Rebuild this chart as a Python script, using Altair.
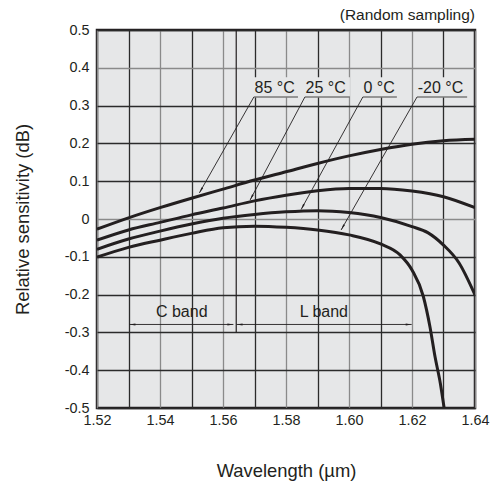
import math
import altair as alt
import pandas as pd

# ---- curve data (wavelength um, relative sensitivity dB) ----
wl_85 = [1.52, 1.53, 1.54, 1.55, 1.56, 1.57, 1.58, 1.59, 1.60, 1.61, 1.62, 1.63, 1.64]
rs_85 = [-0.027, 0.003, 0.030, 0.055, 0.079, 0.103, 0.125, 0.147, 0.167, 0.184, 0.198, 0.207, 0.211]

wl_25 = [1.52, 1.53, 1.54, 1.55, 1.56, 1.57, 1.58, 1.59, 1.60, 1.61, 1.62, 1.63, 1.64]
rs_25 = [-0.056, -0.029, -0.009, 0.011, 0.029, 0.048, 0.063, 0.075, 0.081, 0.081, 0.074, 0.059, 0.030]

wl_0 = [1.52, 1.53, 1.54, 1.55, 1.56, 1.57, 1.58, 1.59, 1.60, 1.61, 1.62, 1.625, 1.63, 1.635, 1.64]
rs_0 = [-0.080, -0.053, -0.032, -0.013, 0.002, 0.012, 0.019, 0.022, 0.017, 0.004, -0.020, -0.036, -0.069, -0.117, -0.201]

wl_m20 = [1.52, 1.53, 1.54, 1.55, 1.56, 1.57, 1.58, 1.59, 1.60, 1.61, 1.6162, 1.62, 1.6236, 1.6257, 1.6273, 1.629, 1.6302]
rs_m20 = [-0.101, -0.075, -0.056, -0.038, -0.023, -0.019, -0.022, -0.029, -0.042, -0.066, -0.095, -0.135, -0.205, -0.285, -0.364, -0.435, -0.500]

# ---- temperature labels ----
lab_text = ["85 °C", "25 °C", "0 °C", "-20 °C"]
lab_x0 = [1.5698, 1.5860, 1.6044, 1.6216]   # underline start
lab_x1 = [1.5838, 1.6003, 1.6152, 1.6375]   # underline end
lab_tip_x = [1.5525, 1.5686, 1.5848, 1.5975]
lab_tip_y = [0.069, 0.050, 0.025, -0.029]
underline_y = 0.3228
label_y = 0.347
box_top = 0.375

# ---- band annotations ----
band_text = ["C band", "L band"]
band_x0 = [1.5303, 1.5643]
band_x1 = [1.5633, 1.6199]
band_text_x = [1.5469, 1.5920]
band_arrow_y = -0.279
band_text_y = -0.245
boundary_x = 1.5642
boundary_y0 = 0.5
boundary_y1 = -0.3

x_ticks = [round(1.52 + 0.01 * i, 2) for i in range(13)]
y_ticks = [round(-0.5 + 0.1 * i, 1) for i in range(11)]

INK = "#231f20"
BG = "#e6e7e8"
FONT = "Liberation Sans"

W, H = 378, 378
XDOM = [1.52, 1.64]
YDOM = [-0.5, 0.5]
px_per_x = W / (XDOM[1] - XDOM[0])
px_per_y = H / (YDOM[1] - YDOM[0])

rows = []
for name, xs, ys in [("85", wl_85, rs_85), ("25", wl_25, rs_25), ("0", wl_0, rs_0), ("-20", wl_m20, rs_m20)]:
    for i, (a, b) in enumerate(zip(xs, ys)):
        rows.append({"series": name, "wl": a, "rs": b, "order": i})
curves_df = pd.DataFrame(rows)

def angle(dx, dy):
    # dx, dy in data units; convert to screen pixels (y down)
    sx = dx * px_per_x
    sy = -dy * px_per_y
    return math.degrees(math.atan2(sx, -sy)) % 360

lab_df = pd.DataFrame({
    "text": lab_text, "x0": lab_x0, "x1": lab_x1,
    "tx": lab_tip_x, "ty": lab_tip_y,
    "uy": [underline_y] * 4, "ly": [label_y] * 4, "bt": [box_top] * 4,
})
lab_df["bx0"] = lab_df["x0"] - 0.0003
lab_df["ang"] = [angle(tx - x0, ty - underline_y) for tx, ty, x0 in zip(lab_tip_x, lab_tip_y, lab_x0)]
lab_df["tx_text"] = lab_df["x0"] + 0.0002

band_df = pd.DataFrame({"text": band_text, "x0": band_x0, "x1": band_x1, "tx": band_text_x,
                        "ay": [band_arrow_y] * 2, "ty": [band_text_y] * 2})
heads = []
for a, b in zip(band_x0, band_x1):
    heads.append({"x": a, "y": band_arrow_y, "ang": 270.0})
    heads.append({"x": b, "y": band_arrow_y, "ang": 90.0})
heads_df = pd.DataFrame(heads)

bound_df = pd.DataFrame({"x": [boundary_x], "y0": [boundary_y0], "y1": [boundary_y1]})

xscale = alt.Scale(domain=XDOM, nice=False, zero=False)
yscale = alt.Scale(domain=YDOM, nice=False, zero=False)

x_axis = alt.Axis(
    values=x_ticks, tickCount=40, title="Wavelength (µm)", grid=True,
    gridColor={"condition": {"test": "round(datum.value*100) % 2 == 0", "value": "#8a8a8a"}, "value": "#2b2b2b"},
    gridWidth=1.3, ticks=False, tickSize=0, domain=False, labelOverlap=False,
    labelExpr="round(datum.value*100) % 2 == 0 ? format(datum.value, '.2f') : ''",
    labelFont=FONT, labelFontSize=14.4, labelColor=INK, labelPadding=5, labelFlush=False,
    titleFont=FONT, titleFontSize=18.4, titleFontWeight="normal", titleColor=INK,
    titleY=62, titleBaseline="middle",
)
y_axis = alt.Axis(
    values=y_ticks, tickCount=40, title="Relative sensitivity (dB)", grid=True,
    gridColor={"condition": {"test": "abs(datum.value) < 0.001 || abs(datum.value - 0.4) < 0.001", "value": "#8a8a8a"}, "value": "#2b2b2b"},
    gridWidth=1.3, ticks=False, tickSize=0, domain=False, labelOverlap=False,
    labelExpr="abs(datum.value) < 0.001 ? '0' : (datum.value < 0 ? '-' + format(-datum.value, '.1f') : format(datum.value, '.1f'))",
    labelFont=FONT, labelFontSize=14.4, labelColor=INK, labelPadding=8, labelFlush=False,
    titleFont=FONT, titleFontSize=18.4, titleFontWeight="normal", titleColor=INK,
    titleX=-75, titleY=189, titleBaseline="middle", titleAngle=270,
)

base_curve = alt.Chart(curves_df).mark_line(
    color=INK, strokeWidth=3, interpolate="monotone", clip=True
).encode(
    x=alt.X("wl:Q", scale=xscale, axis=x_axis),
    y=alt.Y("rs:Q", scale=yscale, axis=y_axis),
    detail="series:N",
    order="order:Q",
)

boundary = alt.Chart(bound_df).mark_rule(color=INK, strokeWidth=1.2).encode(
    x="x:Q", y="y0:Q", y2="y1:Q"
)

lab_box = alt.Chart(lab_df).mark_rect(color=BG).encode(
    x="bx0:Q", x2="x1:Q", y="uy:Q", y2="bt:Q"
)
lab_under = alt.Chart(lab_df).mark_rule(color="#7a7a7a", strokeWidth=1.5).encode(
    x="x0:Q", x2="x1:Q", y="uy:Q"
)
lab_line = alt.Chart(lab_df).mark_rule(color=INK, strokeWidth=0.9).encode(
    x="x0:Q", y="uy:Q", x2="tx:Q", y2="ty:Q"
)
ARROW = "M0,0L0.32,2L-0.32,2Z"
lab_head = alt.Chart(lab_df).mark_point(shape=ARROW, filled=True, color=INK, opacity=1, size=36).encode(
    x="tx:Q", y="ty:Q", angle=alt.Angle("ang:Q", scale=None)
)
lab_txt = alt.Chart(lab_df).mark_text(
    font=FONT, fontSize=16, color=INK, align="left", baseline="middle"
).encode(x="tx_text:Q", y="ly:Q", text="text:N")

band_line = alt.Chart(band_df).mark_rule(color=INK, strokeWidth=0.9).encode(
    x="x0:Q", x2="x1:Q", y="ay:Q"
)
band_head = alt.Chart(heads_df).mark_point(shape=ARROW, filled=True, color=INK, opacity=1, size=36).encode(
    x="x:Q", y="y:Q", angle=alt.Angle("ang:Q", scale=None)
)
band_txt = alt.Chart(band_df).mark_text(
    font=FONT, fontSize=16, color=INK, align="center", baseline="middle"
).encode(x="tx:Q", y="ty:Q", text="text:N")

note = alt.Chart(pd.DataFrame({"t": ["(Random sampling)"]})).mark_text(
    font=FONT, fontSize=15.5, color=INK, align="right", baseline="middle"
).encode(x=alt.value(W), y=alt.value(-15), text="t:N")

chart = alt.layer(
    base_curve, boundary, lab_box, lab_under, lab_line, lab_head, lab_txt,
    band_line, band_head, band_txt, note
).properties(
    width=W, height=H,
    autosize=alt.AutoSizeParams(type="none"),
    padding={"left": 97, "top": 30, "right": 22, "bottom": 75},
    background="white",
).configure_view(
    fill=BG, stroke=INK, strokeWidth=2.5
)

chart.save("out.html", embed_options={"renderer": "svg", "actions": False})
